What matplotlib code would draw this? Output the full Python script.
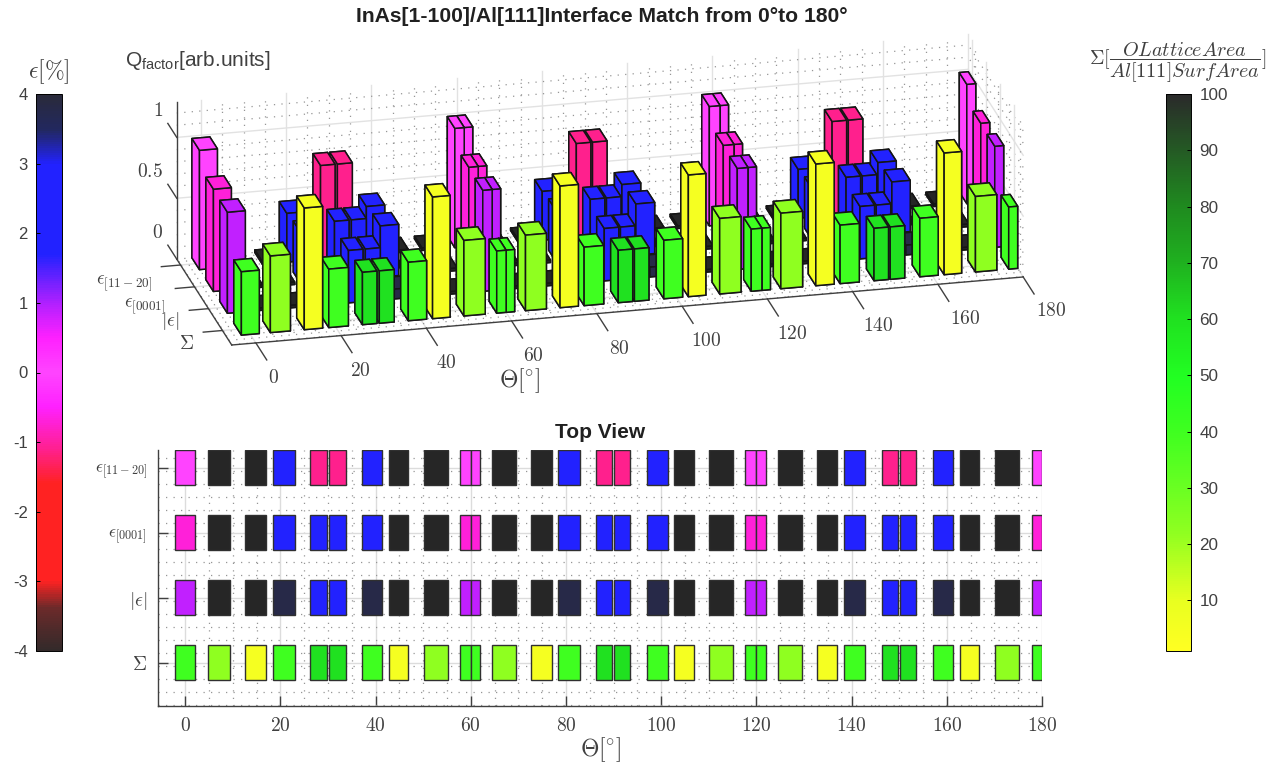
import matplotlib
matplotlib.use('Agg')
import matplotlib.pyplot as plt
from matplotlib.colors import LinearSegmentedColormap, Normalize
from matplotlib.cm import ScalarMappable
import numpy as np

plt.rcParams['font.family'] = ['Liberation Sans', 'DejaVu Sans']
plt.rcParams['mathtext.fontset'] = 'cm'
plt.rcParams['axes.unicode_minus'] = False

W, H = 1287, 766
TXT = '#404040'

# bars along theta, centre and width in degrees
theta = [0, 7.05, 14.8, 20.7, 28, 32, 39.2, 44.8, 52.6, 58.9, 61,
         67, 74.8, 80.6, 88, 91.8, 99.2, 104.8, 112.6, 118.75, 121,
         127, 134.8, 140.6, 148, 151.8, 159.2, 164.8, 172.6, 178.95]
widths = [4.2, 4.7, 4.3, 4.6, 3.4, 3.5, 4.3, 4.1, 5, 2.2, 2,
          4.9, 4.3, 4.6, 3.4, 3.4, 4.4, 4.1, 5, 2.5, 2,
          5.1, 4.3, 4.5, 3.4, 3.4, 4.3, 4.1, 5, 2.1]

# Q factor per row
q_sigma = [.52, .63, 1, .48, .43, .43, .48, 1, .62, .51, .51,
           .62, 1, .48, .43, .43, .48, 1, .62, .51, .51,
           .62, 1, .48, .43, .43, .48, 1, .62, .51]
q_abs = [.83, .02, .02, .08, .43, .43, .08, .02, .02, .83, .83,
         .02, .02, .08, .43, .43, .08, .02, .02, .83, .83,
         .02, .02, .08, .43, .43, .08, .02, .02, .83]
q_0001 = [.84, .02, .02, .42, .49, .49, .42, .02, .02, .84, .84,
          .02, .02, .42, .49, .49, .42, .02, .02, .84, .84,
          .02, .02, .42, .49, .49, .42, .02, .02, .84]
q_1120 = [.98, .02, .02, .40, .77, .77, .40, .02, .02, .98, .98,
          .02, .02, .40, .77, .77, .40, .02, .02, .98, .98,
          .02, .02, .40, .77, .77, .40, .02, .02, .98]

# colour values: area ratio for sigma row, strain for the others (9 = off scale)
c_sigma = [40, 22, 5, 40, 60, 60, 40, 5, 22, 40, 40,
           22, 5, 40, 60, 60, 40, 5, 22, 40, 40,
           22, 5, 40, 60, 60, 40, 5, 22, 40]
c_abs = [.9, 9, 9, 3.8, 2.5, 2.5, 3.8, 9, 9, .9, .9,
         9, 9, 3.8, 2.5, 2.5, 3.8, 9, 9, .9, .9,
         9, 9, 3.8, 2.5, 2.5, 3.8, 9, 9, .9]
c_0001 = [-.7, 9, 9, 2.5, 2.5, 2.5, 2.5, 9, 9, -.7, -.7,
          9, 9, 2.5, 2.5, 2.5, 2.5, 9, 9, -.7, -.7,
          9, 9, 2.5, 2.5, 2.5, 2.5, 9, 9, -.7]
c_1120 = [0, 9, 9, 2.5, -1.1, -1.1, 2.5, 9, 9, 0, 0,
          9, 9, 2.5, -1.1, -1.1, 2.5, 9, 9, 0, 0,
          9, 9, 2.5, -1.1, -1.1, 2.5, 9, 9, 0]

row_labels = [r'$\Sigma$', r'$|\epsilon|$', r'$\epsilon_{[0001]}$', r'$\epsilon_{[11-20]}$']
theta_ticks = list(range(0, 181, 20))
z_ticks = [0, 0.5, 1]
z_labels = ['$0$', '$0.5$', '$1$']
strain_ticks = [-4, -3, -2, -1, 0, 1, 2, 3, 4]
sigma_ticks = [10, 20, 30, 40, 50, 60, 70, 80, 90, 100]

strain_cmap = LinearSegmentedColormap.from_list('strain', [
    (0, '#332a2a'), (.075, '#6b2a2a'), (.125, '#ff2222'), (.30, '#ff2222'),
    (.3625, '#ff2090'), (.4375, '#ff20ff'), (.5, '#ff44ff'), (.5625, '#ff20ff'),
    (.625, '#b020ff'), (.7125, '#2222ff'), (.875, '#2222ff'), (.9375, '#22285f'),
    (1, '#2a2a3a')], N=256)
strain_cmap.set_over('#262626')
sigma_cmap = LinearSegmentedColormap.from_list('sigma', [
    (0, '#ffff22'), (.09, '#e8ff20'), (.21, '#90ff20'), (.30, '#66ff22'),
    (.39, '#40ff20'), (.49, '#22ff22'), (.60, '#20e020'), (.70, '#1fb01f'),
    (.80, '#1f8a1f'), (.90, '#245a24'), (1, '#2a2a2a')], N=256)
strain_norm = Normalize(-4, 4)
sigma_norm = Normalize(1, 100)

rows = [(q_sigma, sigma_cmap(sigma_norm(c_sigma))),
        (q_abs, strain_cmap(strain_norm(c_abs))),
        (q_0001, strain_cmap(strain_norm(c_0001))),
        (q_1120, strain_cmap(strain_norm(c_1120)))]

fig = plt.figure(figsize=(W / 100, H / 100), dpi=100)


def px_axes(x0, y0, x1, y1, **kw):
    # pixel box measured from top left of the picture
    return fig.add_axes([x0 / W, 1 - y1 / H, (x1 - x0) / W, (y1 - y0) / H], **kw)


# ---- 3d view
xmin, xmax = -5.66, 180
ymin, ymax = -0.665, 3.27
zmax = 1.29
depth = 0.54

side = 1049
ax3 = fig.add_axes([61.3 / W, 37.8 / H, side / W, side / H], projection='3d', proj_type='ortho')
ax3.computed_zorder = False
ax3.view_init(elev=21.5, azim=-103.2)
ax3.set_box_aspect((814, 241, 169), zoom=0.8)
ax3.set_axis_off()


def line3(xs, ys, zs, **kw):
    ax3.plot(xs, ys, zs, **kw)


major = dict(color='#e2e2e2', lw=1, zorder=1)
minor = dict(color='#969696', lw=0.9, ls=(0, (1, 5)), zorder=1)

for v in np.arange(0, 181, 5):
    style = major if v % 20 == 0 else minor
    line3([v, v], [ymax, ymax], [0, zmax], **style)
    line3([v, v], [ymin, ymax], [0, 0], **style)
for v in np.arange(0, 1.21, 0.1):
    style = major if round(v, 1) in (0.5, 1.0) else minor
    line3([xmin, xmax], [ymax, ymax], [v, v], **style)
    line3([xmax, xmax], [ymin, ymax], [v, v], **style)
for v in [0, 1, 2, 3]:
    line3([xmin, xmax], [v, v], [0, 0], **major)
    line3([xmax, xmax], [v, v], [0, zmax], **major)
for v in np.arange(-0.65, 3.3, 0.2):
    line3([xmin, xmax], [v, v], [0, 0], **minor)
for v in np.arange(-0.45, 3.3, 0.8):
    line3([xmax, xmax], [v, v], [0, zmax], **minor)

axis_line = dict(color='#404040', lw=1, zorder=2)
line3([xmin, xmax], [ymin, ymin], [0, 0], **axis_line)
line3([xmin, xmin], [ymin, ymax], [0, 0], **axis_line)
line3([xmin, xmin], [ymax, ymax], [0, zmax], **axis_line)
for v in theta_ticks:
    line3([v, v], [ymin, ymin - 0.78], [0, 0], **axis_line)
    ax3.text(v * 1.014 - 1.1, ymin - 1.6, 0, f'${v}$', color=TXT, fontsize=14, ha='center', va='center')
# label shift below the floor, in z units, per row
row_drop = [0.05, 0.04, 0.11, 0.10]
for i, lab in enumerate(row_labels):
    line3([xmin, xmin - 4.5], [i, i], [0, 0], **axis_line)
    ax3.text(xmin - 7.4, i - 0.2, -row_drop[i], lab, color=TXT, fontsize=14 if i < 2 else 13.5,
             ha='right', va='center')
for v, lab in zip(z_ticks, z_labels):
    line3([xmin, xmin], [ymax, ymax + 0.64], [v, v], **axis_line)
    ax3.text(xmin + 0.4, ymax + 1.1, v + 0.015, lab, color=TXT, fontsize=14, ha='right', va='center')

# painter's order, far rows and far bars first
order = 10
for r in [3, 2, 1, 0]:
    q, cols = rows[r]
    for i in range(len(theta) - 1, -1, -1):
        ax3.bar3d(theta[i] - widths[i] / 2, r - depth / 2, 0, widths[i], depth, q[i],
                  color=cols[i], edgecolor='#151515', linewidth=1.1, shade=False, zorder=order)
        order += 1

ax3.set_xlim(xmin, xmax)
ax3.set_ylim(ymin, ymax)
ax3.set_zlim(0, zmax)

# ---- top view
ax2 = px_axes(158.3, 450, 1042, 706)
ax2.set_xlim(xmin, xmax)
ax2.set_ylim(ymin, ymax)
ax2.set_axisbelow(True)
for r in range(4):
    q, cols = rows[r]
    ax2.bar(theta, depth, widths, bottom=r - depth / 2, color=cols, edgecolor='#303030', linewidth=1)
ax2.set_xticks(theta_ticks)
ax2.set_xticklabels([f'${v}$' for v in theta_ticks], color=TXT, fontsize=14)
ax2.set_yticks(range(4))
ax2.set_yticklabels(row_labels, color=TXT, fontsize=14)
for lab in ax2.get_yticklabels()[2:]:
    lab.set_fontsize(12.5)
ax2.set_xticks(np.arange(0, 181, 5), minor=True)
ax2.set_yticks(np.arange(-0.65, 3.3, 0.2), minor=True)
ax2.grid(True, which='major', color='#dcdcdc', lw=1)
ax2.grid(True, which='minor', color='#969696', lw=0.9, ls=(0, (1, 5)))
ax2.tick_params(which='major', direction='in', length=7, width=1, color='#404040', pad=8)
ax2.tick_params(which='minor', length=0)
ax2.spines['top'].set_visible(False)
ax2.spines['right'].set_visible(False)
for s in ['left', 'bottom']:
    ax2.spines[s].set_color('#404040')
    ax2.spines[s].set_linewidth(1)

# ---- colorbars
cax1 = px_axes(36, 94, 62, 651)
cb1 = fig.colorbar(ScalarMappable(norm=strain_norm, cmap=strain_cmap), cax=cax1)
cb1.set_ticks(strain_ticks)
cax1.yaxis.set_ticks_position('left')
cax1.tick_params(direction='in', length=3, width=0.7, labelsize=12, labelcolor=TXT, pad=6)
cb1.outline.set_linewidth(0.7)

cax2 = px_axes(1166, 94, 1191, 651)
cb2 = fig.colorbar(ScalarMappable(norm=sigma_norm, cmap=sigma_cmap), cax=cax2)
cb2.set_ticks(sigma_ticks)
cax2.tick_params(direction='in', length=3, width=0.7, labelsize=12.3, labelcolor=TXT, pad=6)
cb2.outline.set_linewidth(0.7)

# ---- texts
fig.text(602 / W, 1 - 16 / H, 'InAs[1-100]/Al[111]Interface Match from 0\u00b0to 180\u00b0',
         fontsize=15.2, fontweight='bold', color='#202020', ha='center', va='center')
fig.text(600 / W, 1 - 432 / H, 'Top View', fontsize=15, fontweight='bold', color='#202020', ha='center', va='center')
fig.text(125 / W, 1 - 60 / H, r'$\mathdefault{Q_{factor}}$[arb.units]', fontsize=15, color=TXT, va='center')
fig.text(520 / W, 1 - 381 / H, r'$\Theta[^{\circ}]$', fontsize=17, color=TXT, ha='center', va='center')
fig.text(601 / W, 1 - 750 / H, r'$\Theta[^{\circ}]$', fontsize=17, color=TXT, ha='center', va='center')
fig.text(49 / W, 1 - 72 / H, r'$\epsilon[\%]$', fontsize=17, color=TXT, ha='center', va='center')
fig.text(1178 / W, 1 - 63 / H, r'$\Sigma[\dfrac{OLatticeArea}{Al[111]SurfArea}]$', fontsize=14.5, color=TXT,
         ha='center', va='center')

fig.savefig('out.png', dpi=100)
